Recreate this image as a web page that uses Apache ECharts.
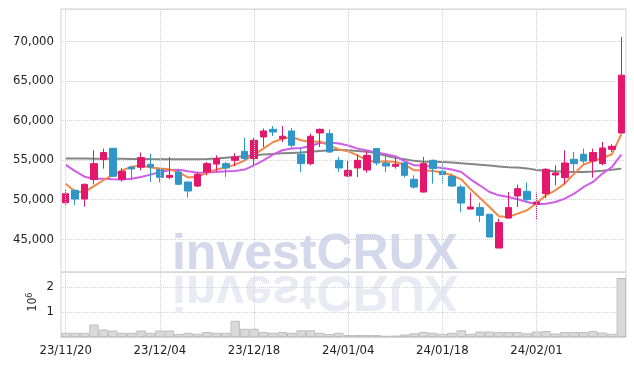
<!DOCTYPE html>
<html><head><meta charset="utf-8">
<script src="https://cdn.jsdelivr.net/npm/echarts@6/dist/echarts.min.js"></script>
<style>html,body{margin:0;padding:0;background:#fff}#c{width:634px;height:366px}</style>
</head><body><div id="c"></div>
<script>
const dates = ['23/11/20','23/11/21','23/11/22','23/11/23','23/11/24','23/11/27','23/11/28','23/11/29','23/11/30','23/12/01',
'23/12/04','23/12/05','23/12/06','23/12/07','23/12/08','23/12/11','23/12/12','23/12/13','23/12/14','23/12/15',
'23/12/18','23/12/19','23/12/20','23/12/21','23/12/22','23/12/26','23/12/27','23/12/28','24/01/02','24/01/03',
'24/01/04','24/01/05','24/01/08','24/01/09','24/01/10','24/01/11','24/01/12','24/01/15','24/01/16','24/01/17',
'24/01/18','24/01/19','24/01/22','24/01/23','24/01/24','24/01/25','24/01/26','24/01/29','24/01/30','24/01/31',
'24/02/01','24/02/02','24/02/05','24/02/06','24/02/07','24/02/08','24/02/13','24/02/14','24/02/15','24/02/16'];
const opens = [49600,51180,50080,52530,55060,56490,52570,54120,54090,54470,53800,52820,53490,52230,51720,53490,54500,54550,54970,56110,
55190,57920,58890,57720,58680,55730,54550,58430,58350,54970,52990,54000,53740,56450,54630,54210,54630,52570,50960,54970,
53590,52950,51590,48810,48990,48140,43880,47670,50460,51050,49440,50760,53110,52780,55100,55730,54880,54550,56360,58425];
const closes = [50750,50080,51930,54550,55950,52950,53580,53870,55310,54120,52820,53070,51940,51090,53200,54550,55190,54000,55390,55190,
57500,58680,58550,58010,56870,54550,58010,58890,56020,54000,53700,54970,55600,54630,54250,54470,53070,51590,54550,53920,
53160,51720,49570,49060,48010,45270,47090,48990,51390,50000,49700,53830,53370,54630,54550,54880,55950,56530,56740,65740];
const lows = [49300,49300,49100,51930,53920,52900,52300,52440,53700,52230,52150,52570,51800,50250,51600,53070,53580,52860,54210,54970,
54340,56650,58045,57290,56580,53490,54340,56650,55945,53490,52860,52860,53420,54340,53490,53920,52820,51390,50890,52020,
52000,51600,48430,48810,47170,45270,43880,47600,49060,49700,47470,50200,51810,51930,53490,54550,52780,54340,56020,58350];
const highs = [51300,51300,52030,56240,56450,56500,54000,54150,55950,55820,53920,55390,53700,52230,53490,54760,55600,54760,55900,57840,
57800,58980,59310,59310,59060,56450,58350,58980,58890,55390,54880,55690,56110,56530,55480,55260,54760,53070,55390,55060,
54550,53300,51900,50890,49620,48200,47600,50960,51900,52150,50900,54000,54340,56240,56020,56450,56450,57290,57000,70570];
const ma5 = [52000,51000,50950,51700,52450,53100,53700,54150,54330,54050,53950,53850,53450,52800,52900,53400,53800,54050,54430,54950,
55700,56450,57250,57700,57920,57500,57300,57350,56850,56350,56100,55600,54970,54760,54850,54760,54430,53700,53700,53620,
53420,53080,52570,51300,50200,49060,47890,47800,48230,48650,49570,50540,51180,52020,53290,54430,54880,55260,55730,58260];
const ma20 = [54400,53600,52900,52650,52650,52570,52530,52650,52860,53160,53490,53700,53790,53580,53400,53415,53490,53580,53620,53800,
54340,54970,55690,56240,56450,56530,56780,57160,57210,57100,56850,56450,56200,55950,55750,55500,54850,54340,54300,54120,
54000,53800,53490,52570,51780,50960,50540,50330,50040,49700,49410,49490,49700,50130,50760,51600,52230,53290,54120,55690];
const ma60 = [55200,55200,55190,55180,55170,55170,55160,55150,55150,55130,55120,55110,55110,55110,55110,55150,55200,55300,55400,55500,
55600,55700,55780,55850,55900,55950,56050,56150,56250,56320,56250,56150,56050,55850,55550,55300,55100,54900,54800,54780,
54760,54700,54600,54500,54400,54300,54200,54100,54050,53950,53750,53650,53580,53530,53490,53500,53560,53650,53780,53920];
const volumes = [170000,170000,170000,500000,300000,260000,170000,170000,260000,170000,260000,260000,120000,170000,130000,200000,170000,170000,650000,330000,
330000,200000,170000,200000,170000,270000,270000,170000,120000,170000,80000,80000,80000,80000,50000,60000,100000,150000,200000,170000,
130000,170000,270000,130000,220000,220000,200000,200000,200000,150000,220000,240000,140000,200000,200000,200000,240000,180000,130000,2360000];
const priceTicks = [45000,50000,55000,60000,65000,70000];
const volTicks = [1000000,2000000];
const gridDates = ['23/11/20','23/12/04','23/12/18','24/01/04','24/01/18','24/02/01'];

const FONT = '"DejaVu Sans Condensed","Liberation Sans Narrow",sans-serif';
const gridCol = '#cdd0e2';
const vLines = gridDates.map(d => ({xAxis: d}));
const markV = {silent:true, symbol:['none','none'], label:{show:false}, animation:false, emphasis:{disabled:true},
  lineStyle:{type:'dotted', color:gridCol, width:1, opacity:1}, data:vLines};

const chart = echarts.init(document.getElementById('c'), null, {renderer:'canvas'});
chart.setOption({
  animation:false,
  backgroundColor:'#fff',
  grid:[
    {left:61, right:8, top:9, height:263, show:true, borderColor:'#d4d4d4', borderWidth:1},
    {left:61, right:8, top:272, height:65, show:true, borderColor:'#d4d4d4', borderWidth:1}
  ],
  graphic:[
    {type:'text', z:-1, x:315, y:255, silent:true, style:{text:'investCRUX', font:'bold 50px "Liberation Sans", sans-serif', fill:'#d3d8ea', align:'center', verticalAlign:'middle'}},
    {type:'text', z:-1, x:315, y:255, originX:0, originY:17.5, scaleY:-1, silent:true, style:{text:'investCRUX', font:'bold 50px "Liberation Sans", sans-serif', fill:'#e9eaf3', align:'center', verticalAlign:'middle'}},
    {type:'text', x:33, y:302, rotation:Math.PI/2, silent:true, style:{text:'10{s|6}', font:'12px '+FONT, fill:'#333', align:'center', verticalAlign:'middle', rich:{s:{fontSize:9, fontFamily:FONT, fill:'#333', padding:[0,0,7,0]}}}}
  ],
  xAxis:[
    {type:'category', gridIndex:0, data:dates, boundaryGap:true, axisLine:{show:false}, axisTick:{show:false}, axisLabel:{show:false}, splitLine:{show:false}},
    {type:'category', gridIndex:1, data:dates, boundaryGap:true, axisLine:{show:true, lineStyle:{color:'#d4d4d4'}}, axisTick:{show:false},
      axisLabel:{interval:9, color:'#222', fontSize:13, fontFamily:FONT, margin:7}, splitLine:{show:false}}
  ],
  yAxis:[
    {type:'value', gridIndex:0, min:40850, max:74100, splitNumber:6, axisLine:{show:false}, axisTick:{show:false},
      axisLabel:{color:'#222', fontSize:13, fontFamily:FONT, margin:7, showMinLabel:false, showMaxLabel:false,
        formatter:v => priceTicks.includes(v) ? v.toLocaleString('en-US') : ''},
      splitLine:{lineStyle:{type:'dotted', color:gridCol}}},
    {type:'value', gridIndex:1, min:0, max:2600000, interval:1000000, axisLine:{show:false}, axisTick:{show:false},
      axisLabel:{color:'#222', fontSize:13, fontFamily:FONT, margin:7, showMinLabel:false, showMaxLabel:false,
        formatter:v => volTicks.includes(v) ? String(v/1000000) : ''},
      splitLine:{lineStyle:{type:'dotted', color:gridCol}}}
  ],
  series:[
    {type:'line', name:'MA60', xAxisIndex:0, yAxisIndex:0, data:ma60, showSymbol:false, z:3, lineStyle:{color:'#858585', width:2}},
    {type:'line', name:'MA20', xAxisIndex:0, yAxisIndex:0, data:ma20, showSymbol:false, z:3, lineStyle:{color:'#d05ce8', width:2}},
    {type:'line', name:'MA5', xAxisIndex:0, yAxisIndex:0, data:ma5, showSymbol:false, z:3, lineStyle:{color:'#f0884a', width:2}},
    {type:'candlestick', xAxisIndex:0, yAxisIndex:0, z:4, barWidth:7,
      data: opens.map((o,i) => [o, closes[i], lows[i], highs[i]]),
      itemStyle:{color:'#e3176b', color0:'#2f96c8', borderColor:'#e3176b', borderColor0:'#2f96c8', borderWidth:1},
      markLine: markV},
    {type:'bar', xAxisIndex:1, yAxisIndex:1, data:volumes, barCategoryGap:'0%', z:2,
      itemStyle:{color:'#d9d9d9', borderColor:'#bfbfbf', borderWidth:1},
      markLine: markV}
  ]
});
</script></body></html>
